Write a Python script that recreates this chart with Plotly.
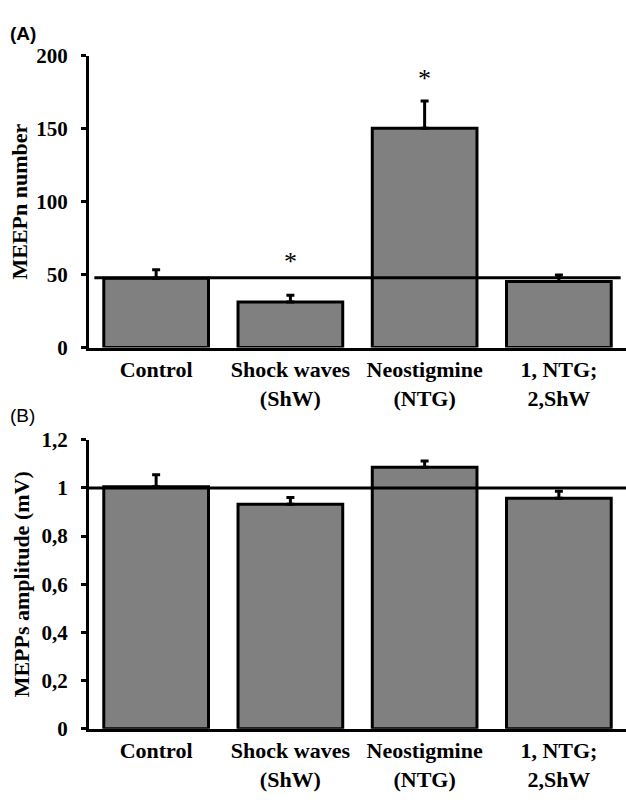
import plotly.graph_objects as go

categories = ["Control", "Shock waves<br>(ShW)", "Neostigmine<br>(NTG)", "1, NTG;<br>2,ShW"]

# Panel A: MEEPn number
meepn_mean = [47.5, 31.3, 150.3, 45.3]
meepn_err = [5.8, 4.5, 18.6, 4.5]
meepn_ref = 47.8
meepn_sig = ["", "*", "*", ""]
meepn_sig_y = [None, 59.0, 184.5, None]
a_tickvals = [0, 50, 100, 150, 200]
a_ticktext = ["0", "50", "100", "150", "200"]

# Panel B: MEPPs amplitude (mV)
mepp_mean = [1.005, 0.932, 1.086, 0.957]
mepp_err = [0.05, 0.028, 0.026, 0.029]
mepp_ref = 1.0
b_tickvals = [0, 0.2, 0.4, 0.6, 0.8, 1.0, 1.2]
b_ticktext = ["0", "0,2", "0,4", "0,6", "0,8", "1", "1,2"]

W, H = 626, 800
serif = "Liberation Serif"

fig = go.Figure()

def add_panel(mean, err, xa, ya):
    fig.add_trace(go.Bar(
        x=categories, y=mean,
        marker=dict(color="#808080", line=dict(color="black", width=3)),
        error_y=dict(type="data", symmetric=False, array=err,
                     arrayminus=[0] * len(err), color="black",
                     thickness=3, width=4),
        xaxis=xa, yaxis=ya, showlegend=False,
    ))

add_panel(meepn_mean, meepn_err, "x", "y")
add_panel(mepp_mean, mepp_err, "x2", "y2")

x_dom = [89 / W, 1.0]
a_dom = [1 - 346 / H, 1 - 45 / H]
b_dom = [1 - 739 / H, 1 - 441 / H]

tickfont = dict(family=serif, size=21, color="black", weight="bold")
titlefont = dict(family=serif, size=22, color="black", weight="bold")

common_x = dict(showline=True, linecolor="black", linewidth=3, ticks="",
                tickfont=dict(family=serif, size=22, color="black", weight="bold"),
                showgrid=False, zeroline=False, range=[-0.5, 3.5], type="category")
common_y = dict(showline=True, linecolor="black", linewidth=3, ticks="outside",
                ticklen=5, tickwidth=3, tickcolor="black", tickfont=tickfont,
                showgrid=False, zeroline=False, ticklabelstandoff=9)

fig.update_layout(
    width=W, height=H, margin=dict(l=0, r=0, t=0, b=0),
    paper_bgcolor="white", plot_bgcolor="white",
    bargap=0.22,
    xaxis=dict(domain=x_dom, anchor="y", **common_x),
    xaxis2=dict(domain=x_dom, anchor="y2", **common_x),
    yaxis=dict(domain=a_dom, anchor="x", range=[0, 200], tickvals=a_tickvals,
               ticktext=a_ticktext,
               title=dict(text="MEEPn number", font=titlefont, standoff=3),
               **common_y),
    yaxis2=dict(domain=b_dom, anchor="x2", range=[0, 1.2], tickvals=b_tickvals,
                ticktext=b_ticktext,
                title=dict(text="MEPPs amplitude (mV)", font=titlefont, standoff=6),
                **common_y),
)

# reference lines
fig.add_shape(type="line", xref="x domain", yref="y", x0=0.01, x1=0.99,
              y0=meepn_ref, y1=meepn_ref, line=dict(color="black", width=3))
fig.add_shape(type="line", xref="x2 domain", yref="y2", x0=0.0, x1=1.0,
              y0=mepp_ref, y1=mepp_ref, line=dict(color="black", width=3))

# significance stars
for c, s, sy in zip(categories, meepn_sig, meepn_sig_y):
    if s:
        fig.add_annotation(x=c, y=sy, xref="x", yref="y", text=s, showarrow=False,
                           font=dict(family=serif, size=26, color="black"),
                           yanchor="middle")

# panel letters
fig.add_annotation(x=8 / W, y=1 - 22 / H, xref="paper", yref="paper", text="(A)",
                   showarrow=False, xanchor="left", yanchor="middle",
                   font=dict(family="Liberation Sans", size=19, color="black", weight="bold"))
fig.add_annotation(x=8 / W, y=1 - 416 / H, xref="paper", yref="paper", text="(B)",
                   showarrow=False, xanchor="left", yanchor="middle",
                   font=dict(family="Liberation Sans", size=19, color="black"))

fig.write_html("out.html")
